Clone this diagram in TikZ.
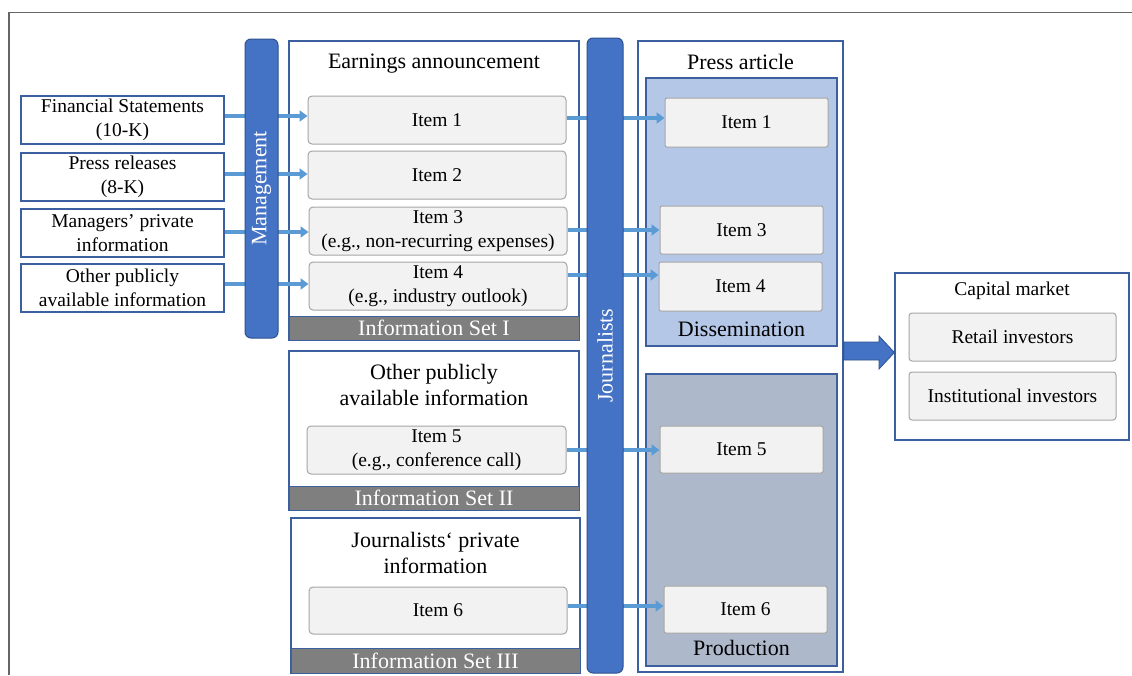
\documentclass[tikz,border=0pt]{standalone}
\usepackage{fontspec}
\setmainfont{Liberation Serif}
\usetikzlibrary{arrows.meta}
\definecolor{barblue}{HTML}{4472C4}
\definecolor{bardark}{HTML}{2F528F}
\definecolor{boxblue}{HTML}{3C5FA0}
\definecolor{connblue}{HTML}{5B9BD5}
\definecolor{bandgray}{HTML}{7F7F7F}
\definecolor{itemfill}{HTML}{F2F2F2}
\definecolor{itemline}{HTML}{A6A6A6}
\definecolor{dissfill}{HTML}{B4C7E7}
\definecolor{prodfill}{HTML}{ADB9CA}
\begin{document}
\begin{tikzpicture}[x=1pt,y=-1pt,
 txt/.style={font=\fontsize{19.5}{23.5}\selectfont, align=center},
 bigtxt/.style={font=\fontsize{22}{26.4}\selectfont, align=center},
 srcbox/.style={draw=boxblue, line width=1.2pt, fill=white, minimum width=203pt, minimum height=48pt, inner sep=0pt, txt},
 outerbox/.style={draw=boxblue, line width=1.2pt, fill=white, inner sep=0pt},
 itembox/.style={draw=itemline, line width=1pt, fill=itemfill, rounded corners=4pt, inner sep=0pt, txt},
 pitem/.style={draw=itemline, line width=1pt, fill=itemfill, rounded corners=2pt, inner sep=0pt, minimum width=163pt, txt},
 vbar/.style={draw=bardark, line width=1pt, fill=barblue, rounded corners=6pt, inner sep=0pt},
 bandbox/.style={draw=boxblue, line width=1pt, fill=bandgray, inner sep=0pt, text=white, bigtxt},
 subbox/.style={draw=boxblue, line width=1.2pt, inner sep=0pt, minimum width=191pt},
 conn/.style={draw=connblue, line width=4pt, -{Triangle[length=8pt,width=11pt]}},
]
\useasboundingbox (0,0) rectangle (1132,675);
\fill[white] (0,0) rectangle (1132,675);
% outer frame
\draw[line width=1.5pt, draw=black!60] (9,675) -- (9,12.5) -- (1132,12.5);

% sources
\node[srcbox] (s1) at (122.5,120) {Financial Statements\\(10-K)};
\node[srcbox] (s2) at (122.5,177) {Press releases\\(8-K)};
\node[srcbox] (s3) at (122.5,233) {Managers’ private\\information};
\node[srcbox] (s4) at (122.5,288) {Other publicly\\available information};

% Earnings announcement
\node[outerbox, minimum width=290pt, minimum height=299pt] (ea) at (434,190.5) {};
\node[bigtxt] (eat) at (434,63.5) {Earnings announcement};
\node[bandbox, minimum width=290pt, minimum height=24pt] (b1) at (434,328) {Information Set I};
\node[itembox, minimum width=258pt, minimum height=48pt] (i1) at (437,120) {Item 1};
\node[itembox, minimum width=258pt, minimum height=48pt] (i2) at (437,175) {Item 2};
\node[itembox, minimum width=258pt, minimum height=48pt] (i3) at (438,231) {Item 3\\(e.g., non-recurring expenses)};
\node[itembox, minimum width=258pt, minimum height=48pt] (i4) at (438,286) {Item 4\\(e.g., industry outlook)};

% Information set II
\node[outerbox, minimum width=290pt, minimum height=159pt] (f2) at (434,430.5) {};
\node[bigtxt] (f2t) at (434,385) {Other publicly\\available information};
\node[bandbox, minimum width=290pt, minimum height=24pt] (b2) at (434,498) {Information Set II};
\node[itembox, minimum width=259pt, minimum height=48pt] (i5) at (436.5,450) {Item 5\\(e.g., conference call)};

% Information set III
\node[outerbox, minimum width=289pt, minimum height=155pt] (f3) at (435.5,595.5) {};
\node[bigtxt] (f3t) at (435.5,553) {Journalists‘ private\\information};
\node[bandbox, minimum width=289pt, minimum height=25pt] (b3) at (435.5,660.5) {Information Set III};
\node[itembox, minimum width=258pt, minimum height=47pt] (i6) at (438,610.5) {Item 6};

% Press article
\node[outerbox, minimum width=205pt, minimum height=631pt] (pa) at (740.5,356.5) {};
\node[bigtxt] (pat) at (740.5,62) {Press article};
\node[subbox, fill=dissfill, minimum height=268pt] (dis) at (741.5,212) {};
\node[bigtxt] (dist) at (741.5,329) {Dissemination};
\node[subbox, fill=prodfill, minimum height=292pt] (prod) at (741.5,520) {};
\node[bigtxt] (prodt) at (741.5,648) {Production};
\node[pitem, minimum height=49pt] (p1) at (746.5,122.5) {Item 1};
\node[pitem, minimum height=48pt] (p3) at (741.5,230) {Item 3};
\node[pitem, minimum height=49pt] (p4) at (740.5,286.5) {Item 4};
\node[pitem, minimum height=47pt] (p5) at (741.5,449.5) {Item 5};
\node[pitem, minimum height=47pt] (p6) at (745.5,609.5) {Item 6};

% connectors
\draw[conn] (s1.east |- 0,116) -- (i1.west |- 0,116);
\draw[conn] (s2.east |- 0,174) -- (i2.west |- 0,174);
\draw[conn] (s3.east |- 0,232) -- (i3.west |- 0,232);
\draw[conn] (s4.east |- 0,284) -- (i4.west |- 0,284);
\draw[conn] (i1.east |- 0,118) -- (p1.west |- 0,118);
\draw[conn] (i3.east |- 0,230) -- (p3.west |- 0,230);
\draw[conn] (i4.east |- 0,275) -- (p4.west |- 0,275);
\draw[conn] (i5.east |- 0,450) -- (p5.west |- 0,450);
\draw[conn] (i6.east |- 0,606) -- (p6.west |- 0,606);

% bars
\node[vbar, minimum width=33pt, minimum height=299pt] (mg) at (261.5,188.5) {};
\node[bigtxt, text=white, rotate=90] (mgt) at (mg.center) {Management};
\node[vbar, minimum width=36pt, minimum height=635pt] (jn) at (605,355.5) {};
\node[bigtxt, text=white, rotate=90] (jnt) at (jn.center) {Journalists};

% capital market
\node[outerbox, minimum width=234pt, minimum height=167pt] (cm) at (1012,356.5) {};
\node[txt] (cmt) at (1012,291) {Capital market};
\node[itembox, rounded corners=3pt, minimum width=207pt, minimum height=48pt] (ri) at (1012.5,337) {Retail investors};
\node[itembox, rounded corners=3pt, minimum width=207pt, minimum height=48pt] (ii) at (1012.5,396) {Institutional investors};

% block arrow
\fill[barblue, draw=bardark, line width=0.8pt] (pa.east |- 0,342) -- (879,342) -- (879,336) -- (cm.west |- 0,352.5) -- (879,369) -- (879,360) -- (pa.east |- 0,360) -- cycle;
\end{tikzpicture}
\end{document}
